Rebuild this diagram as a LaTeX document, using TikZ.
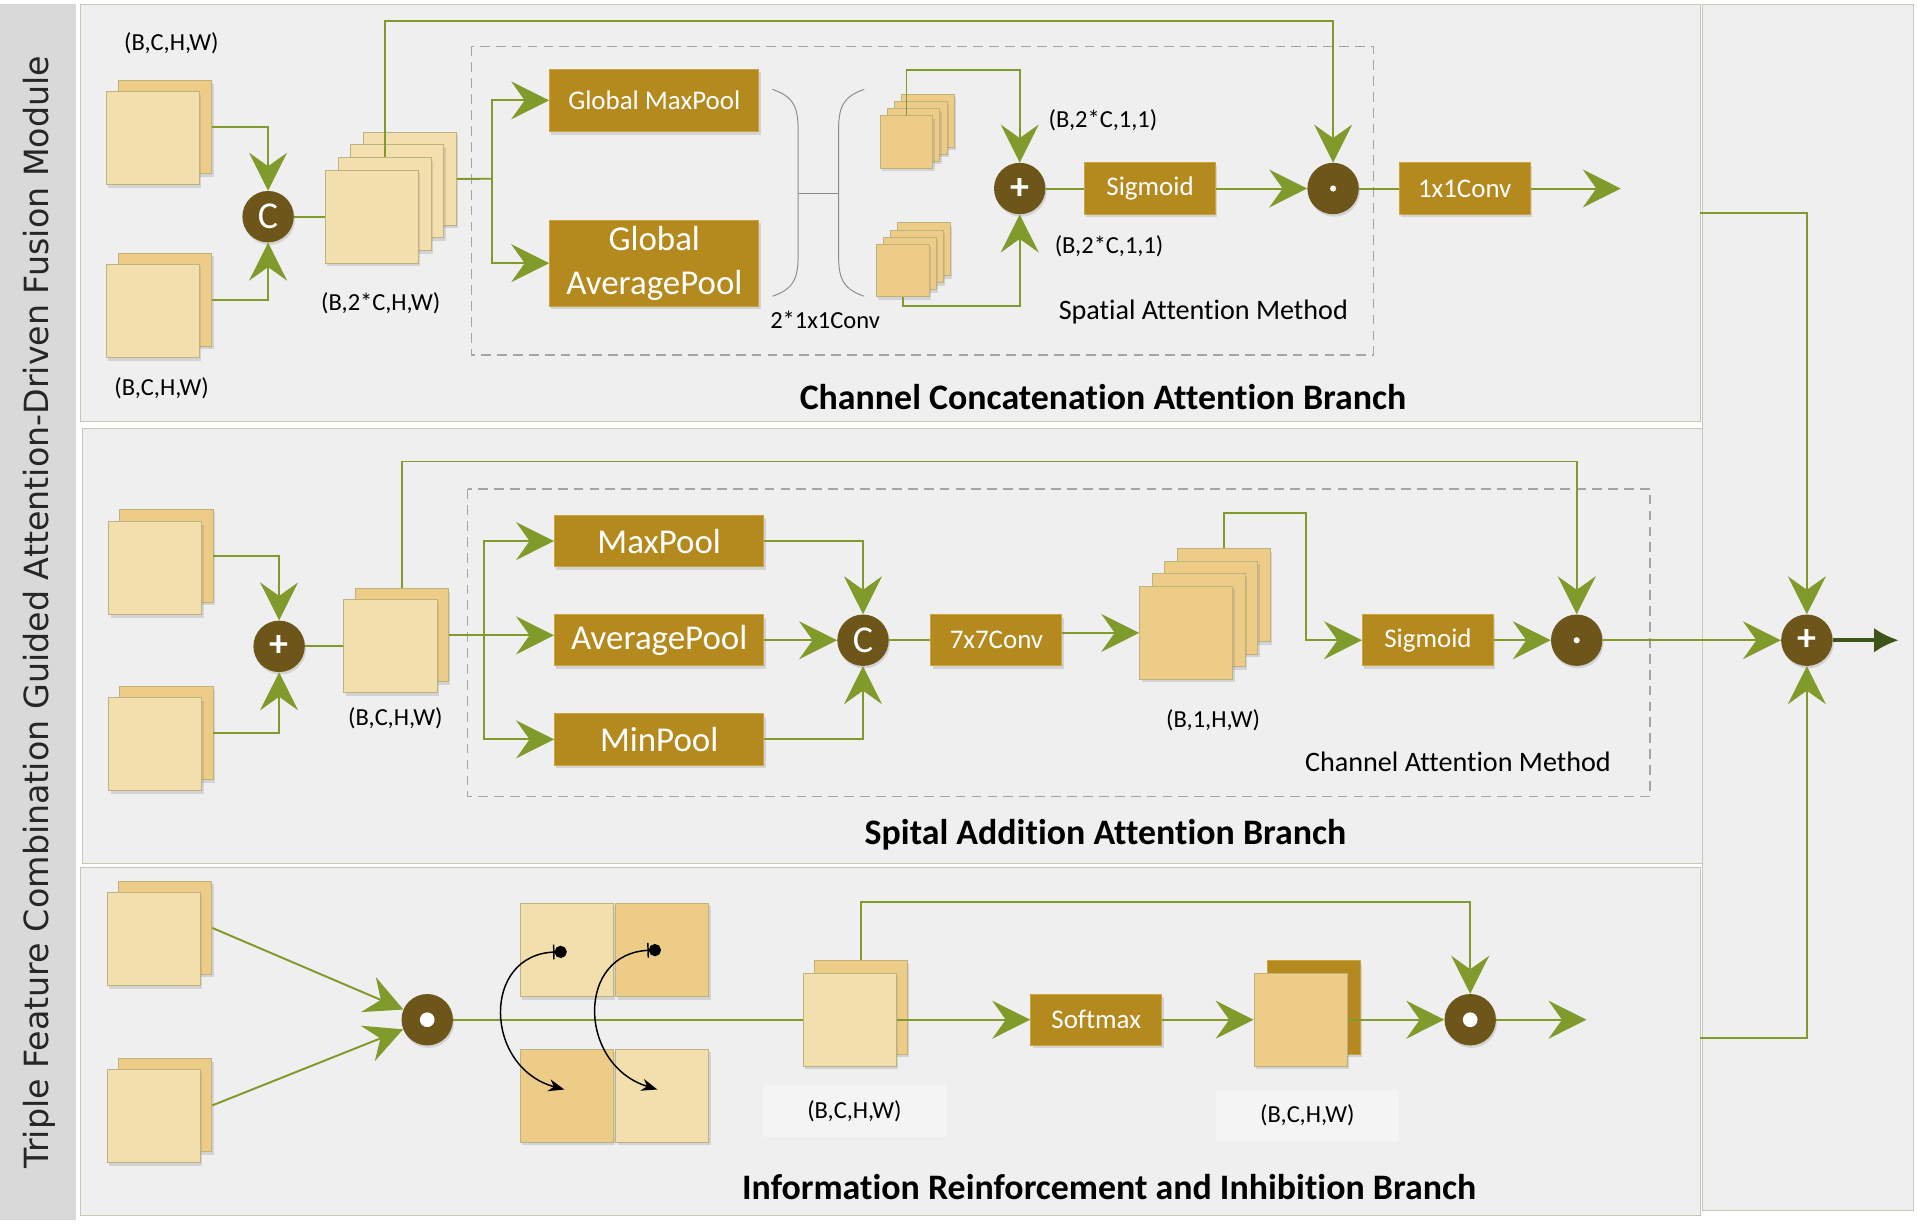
\documentclass[tikz,border=0pt]{standalone}
\usepackage{fontspec}
\setmainfont{Carlito}[Ligatures=NoCommon]
\newfontfamily\sidefont{DejaVu Sans}
\usetikzlibrary{arrows.meta, positioning, shadows}

\definecolor{panelbg}{HTML}{EFEFEF}
\definecolor{panelline}{HTML}{C6C8B6}
\definecolor{bandbg}{HTML}{D9D9D9}
\definecolor{cream}{HTML}{F3DFAE}
\definecolor{creamdark}{HTML}{EDCC88}
\definecolor{mapline}{HTML}{BDB37C}
\definecolor{gold}{HTML}{B48A1F}
\definecolor{goldline}{HTML}{C9A43F}
\definecolor{opbrown}{HTML}{6E561A}
\definecolor{flowgreen}{HTML}{809A2B}
\definecolor{outgreen}{HTML}{3F5418}
\definecolor{dashgray}{HTML}{A5A5A5}
\definecolor{labelbg}{HTML}{F4F4F4}

\begin{document}
\begin{tikzpicture}[x=1pt,y=-1pt,
    >={Stealth[length=31pt,width=31pt,inset=11pt]},
    flow/.style={draw=flowgreen,line width=1.6pt},
    map node/.style={draw=mapline,fill=cream,line width=0.8pt,inner sep=0pt,minimum size=76pt,
        drop shadow={shadow xshift=1.5pt,shadow yshift=-2.5pt,opacity=.25}},
    small map/.style={map node,fill=creamdark,minimum size=43pt},
    op node/.style={circle,fill=opbrown,inner sep=0pt,minimum size=42pt,text=white,
        drop shadow={shadow xshift=1pt,shadow yshift=-2pt,opacity=.25}},
    cat node/.style={op node,font=\fontsize{31}{32}\selectfont},
    add node/.style={op node,font=\bfseries\fontsize{31}{32}\selectfont},
    box node/.style={rectangle,fill=gold,draw=goldline,line width=0.8pt,text=white,inner sep=0pt,
        minimum width=107pt,minimum height=42pt,font=\fontsize{22}{26}\selectfont,
        drop shadow={shadow xshift=1.5pt,shadow yshift=-2.5pt,opacity=.25}},
    wide box/.style={box node,minimum width=171pt,font=\fontsize{28.5}{36}\selectfont},
    label node/.style={inner sep=0pt,font=\fontsize{20}{24}\selectfont},
    title node/.style={inner sep=0pt,font=\bfseries\fontsize{29.3}{34}\selectfont},
    dot mark/.style={path picture={\fill[white] (path picture bounding box.center) circle (#1);}},
    panel/.style={draw=panelline,fill=panelbg,line width=0.8pt},
    method/.style={draw=dashgray,dash pattern=on 8pt off 5pt,line width=1.2pt},
    bracket/.style={draw=black!45,line width=0.8pt},
    arc line/.style={draw=black,line width=1.2pt,{Circle[length=10pt]Bar[width=12pt]}-{Stealth[length=13pt,width=10pt]}},
]
\useasboundingbox (0,0) rectangle (1566,1002);

% panels
\draw[panel] (1391,3.3) rectangle (1563,988.6);
\draw[panel] (66,3.3) rectangle (1389,344.5);
\draw[panel] (67,350) rectangle (1391,705.3);
\draw[panel] (66,708.6) rectangle (1389,992.6);
\fill[bandbg] (0,3) rectangle (62,997);
\node[rotate=90,font=\sidefont\fontsize{27.2}{30}\selectfont,text=black!85] (side) at (32,500)
    {Triple Feature Combination Guided Attention-Driven Fusion Module};

% ---------- channel concatenation branch ----------
\draw[method] (385,38) rectangle (1122,290);

\node[map node,fill=creamdark] (in1b) at (135,104) {};
\node[map node] (in1a) at (125,113) {};
\node[map node,fill=creamdark] (in2b) at (135,245) {};
\node[map node] (in2a) at (125,254) {};
\node[cat node] (cat) at (219,177) {C};
\foreach \n/\k in {d/3,c/2,b/1}
    \node[map node] (s1\n) at (304+10.3*\k,177-10.3*\k) {};
\node[map node] (s1a) at (304,177) {};

\node[wide box,font=\fontsize{22}{26}\selectfont,minimum height=51pt] (gmp) at (534.5,82) {Global MaxPool};
\node[wide box,minimum height=70pt,align=center] (gap) at (534.5,215) {Global\\AveragePool};

% 2*1x1Conv
\draw[bracket] (631,73) .. controls (652,80) and (652,92) .. (652,112) -- (652,203)
    .. controls (652,223) and (652,235) .. (631,242);
\draw[bracket] (706,73) .. controls (685,80) and (685,92) .. (685,112) -- (685,203)
    .. controls (685,223) and (685,235) .. (706,242);
\draw[bracket] (652,158) -- (685,158);

\foreach \n/\k in {d/3,c/2,b/1}
    \node[small map] (up\n) at (740.5+5.8*\k,116-5.8*\k) {};
\node[small map] (upa) at (740.5,116) {};
\foreach \n/\k in {d/3,c/2,b/1}
    \node[small map] (lo\n) at (737.5+5.8*\k,221-5.8*\k) {};
\node[small map] (loa) at (737.5,221) {};

\node[add node] (plus1) at (833,154) {+};
\node[box node] (sig1) at (939.5,154) {Sigmoid};
\node[op node,dot mark=2.5pt] (dot1) at (1089,154) {};
\node[box node] (conv1) at (1196.5,154) {1x1Conv};
\coordinate (o1) at (1324,154);
\coordinate (sk1) at (1089,17);
\coordinate (br1) at (402,146);

\node[label node] (l1) at (140,35) {(B,C,H,W)};
\node[label node] (l2) at (132,317) {(B,C,H,W)};
\node[label node] (l3) at (311,248) {(B,2*C,H,W)};
\node[label node] (l4) at (674,261) {2*1x1Conv};
\node[label node] (l5) at (901,98) {(B,2*C,1,1)};
\node[label node] (l6) at (906,201.5) {(B,2*C,1,1)};
\node[label node,font=\fontsize{23}{26}\selectfont] (m1) at (983,255) {Spatial Attention Method};
\node[title node] (t1) at (901,324) {Channel Concatenation Attention Branch};

\draw[flow,->] (in1b.east) -| (cat.north);
\draw[flow,->] (in2b.east) -| (cat.south);
\draw[flow] (cat) -- (s1a);
\draw[flow] (s1d.east) -- (br1);
\draw[flow,->] (br1) |- (gmp.west);
\draw[flow,->] (br1) |- (gap.west);
\draw[flow,->] (s1b.north) |- (sk1) -- (dot1.north);
\draw[flow,->] (upa.north) -- ++(0,-37) -| (plus1.north);
\draw[flow,->] (loa.south) -- ++(0,7) -| (plus1.south);
\draw[flow] (plus1) -- (sig1);
\draw[flow,->] (sig1) -- (dot1);
\draw[flow] (dot1) -- (conv1);
\draw[flow,->] (conv1) -- (o1);

% ---------- spital addition branch ----------
\draw[method] (382,399.5) rectangle (1348,650.8);

\node[map node,fill=creamdark] (in3b) at (136,454) {};
\node[map node] (in3a) at (127,464) {};
\node[map node,fill=creamdark] (in4b) at (136,599) {};
\node[map node] (in4a) at (127,608) {};
\node[add node] (plus2) at (228,528) {+};
\node[map node,fill=creamdark] (s2b) at (328,519) {};
\node[map node] (s2a) at (319,528) {};

\node[wide box] (mp) at (538.5,442) {MaxPool};
\node[wide box] (ap) at (538.5,523) {AveragePool};
\node[wide box] (minp) at (538.5,604) {MinPool};
\node[cat node] (c2) at (705,523) {C};
\node[box node] (conv7) at (814,523) {7x7Conv};
\foreach \n/\k in {d/3,c/2,b/1}
    \node[map node,fill=creamdark] (s3\n) at (969+10.3*\k,517-10.3*\k) {};
\node[map node,fill=creamdark] (s3a) at (969,517) {};
\node[box node] (sig2) at (1166.5,523) {Sigmoid};
\node[op node,dot mark=2.5pt] (dot2) at (1288,523) {};
\node[add node] (plusF) at (1476,523) {+};
\coordinate (br2) at (395,519);
\coordinate (tn2) at (1067,419);
\coordinate (sk2) at (1288,377);

\node[label node] (l7) at (323,587) {(B,C,H,W)};
\node[label node] (l8) at (991,588) {(B,1,H,W)};
\node[label node,font=\fontsize{23}{26}\selectfont] (m2) at (1191,622) {Channel Attention Method};
\node[title node] (t2) at (903,682) {Spital Addition Attention Branch};

\draw[flow,->] (in3b.east) -| (plus2.north);
\draw[flow,->] (in4b.east) -| (plus2.south);
\draw[flow] (plus2) -- (s2a);
\draw[flow] (s2b.east) -- (br2);
\draw[flow,->] (br2) |- (mp.west);
\draw[flow,->] (br2) -- (ap.west |- br2);
\draw[flow,->] (br2) |- (minp.west);
\draw[flow,->] (mp.east) -| (c2.north);
\draw[flow,->] (ap) -- (c2);
\draw[flow,->] (minp.east) -| (c2.south);
\draw[flow] (c2) -- (conv7);
\draw[flow,->] (conv7.east |- s3a.west) -- (s3a.west);
\draw[flow,->] (s3d.north) |- (tn2) |- (sig2.west);
\draw[flow,->] (sig2) -- (dot2);
\draw[flow,->] (s2b.north) |- (sk2) -- (dot2.north);
\draw[flow,->] (dot2) -- (plusF);

% ---------- information reinforcement branch ----------
\node[map node,fill=creamdark] (in5b) at (135,758) {};
\node[map node] (in5a) at (125.5,767) {};
\node[map node,fill=creamdark] (in6b) at (135,903) {};
\node[map node] (in6a) at (125.5,912) {};
\node[op node,dot mark=6pt] (dot3) at (349,833) {};

\node[map node] (q1) at (463,776) {};
\node[map node,fill=creamdark] (q2) at (541,776) {};
\node[map node,fill=creamdark] (q3) at (463,895) {};
\node[map node] (q4) at (541,895) {};

\node[map node,fill=creamdark] (s4b) at (703,823) {};
\node[map node] (s4a) at (694,833) {};
\node[box node] (soft) at (895.5,833) {Softmax};
\node[map node,fill=gold,draw=goldline] (s5b) at (1073.5,823) {};
\node[map node,fill=creamdark] (s5a) at (1062.5,833) {};
\node[op node,dot mark=6pt] (dot4) at (1201,833) {};
\coordinate (sk3) at (1201,736.7);
\coordinate (o3) at (1296,833);

\node[label node,fill=labelbg,minimum width=150pt,minimum height=42pt] (l9) at (698,907.4) {(B,C,H,W)};
\node[label node,fill=labelbg,minimum width=150pt,minimum height=42pt] (l10) at (1068,911) {(B,C,H,W)};
\node[title node] (t3) at (906,969.5) {Information Reinforcement and Inhibition Branch};

\draw[flow,->] (in5b.east) -- (dot3);
\draw[flow,->] (in6b.east) -- (dot3);
\draw[flow] (dot3) -- (s4a);
\draw[flow,->] (s4a.east) -- (soft.west);
\draw[flow,->] (soft) -- (s5a);
\draw[flow,->] (s5a.east) -- (dot4);
\draw[flow,->] (s4b.north) |- (sk3) -- (dot4.north);
\draw[flow,->] (dot4) -- (o3);

% swap arcs
\coordinate (a1s) at (463,777.5);
\coordinate (a1e) at (461,890);
\coordinate (a2s) at (540,776);
\coordinate (a2e) at (537,890);
\draw[arc line] (a1s) .. controls (393,779) and (395,872) .. (a1e);
\draw[arc line] (a2s) .. controls (470,778) and (472,870) .. (a2e);

% fusion
\coordinate (e1) at (1389,174);
\coordinate (e3) at (1389,848);
\coordinate (oF) at (1551,523);
\draw[flow,->] (e1) -| (plusF.north);
\draw[flow,->] (e3) -| (plusF.south);
\draw[draw=outgreen,line width=3pt,-{Latex[length=20pt,width=20pt]}] (plusF) -- (oF);

\end{tikzpicture}
\end{document}
